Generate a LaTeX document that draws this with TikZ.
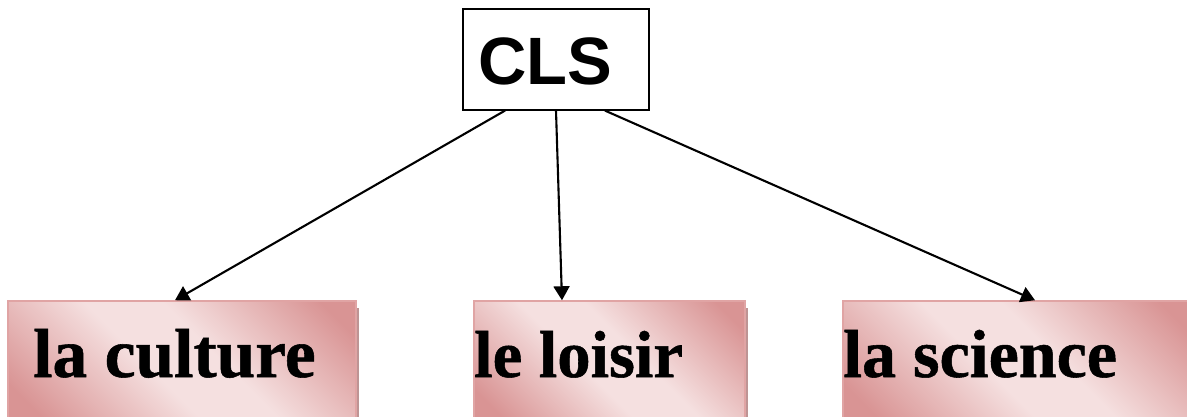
\documentclass[tikz,border=0pt]{standalone}
\usepackage{fontspec}
\setmainfont{Liberation Serif}[BoldFeatures={FakeBold=0.8}]
\newfontfamily\arialfont{Liberation Sans}
\usetikzlibrary{arrows.meta,calc}
\definecolor{pdark}{HTML}{D99494}
\definecolor{plight}{HTML}{F5E0E0}
\definecolor{pborder}{HTML}{E0A4A4}
\definecolor{pshadow}{HTML}{BE9494}
\pgfdeclarehorizontalshading{pinkgrad}{100bp}{color(0bp)=(pdark); color(20bp)=(pdark); color(44bp)=(plight); color(56bp)=(plight); color(80bp)=(pdark); color(100bp)=(pdark)}
\tikzset{
  x=1pt,y=1pt,
  pinkbox/.style={draw=pborder,line width=1.5pt,shading=pinkgrad,shading angle=45},
  shadowbox/.style={fill=pshadow,draw=none},
  lbl/.style={anchor=base west,inner sep=0pt,font=\fontsize{68}{68}\selectfont\bfseries},
  clsbox/.style={draw=black,line width=1.2pt,fill=white,minimum width=186pt,minimum height=101pt,inner sep=0pt},
  arr/.style={line width=2.1pt,-{Triangle[length=14pt,width=16pt]}}
}
\begin{document}
\begin{tikzpicture}
\useasboundingbox (0,0) rectangle (1187,-416);
\clip (0,0) rectangle (1187,-416);
% shadows
\fill[shadowbox] (11,-308) rectangle (359,-430);
\fill[shadowbox] (477,-308) rectangle (748,-430);
\fill[shadowbox] (846,-308) rectangle (1198,-430);
% boxes
\node[pinkbox,minimum width=348pt,minimum height=119pt,inner sep=0pt] (b1) at (182,-360.5) {};
\node[pinkbox,minimum width=271pt,minimum height=119pt,inner sep=0pt] (b2) at (609.5,-360.5) {};
\node[pinkbox,minimum width=352pt,minimum height=119pt,inner sep=0pt] (b3) at (1019,-360.5) {};
\node[lbl,font=\fontsize{69.5}{70}\selectfont\bfseries] (t1) at (33,-377) {la culture};
\node[lbl,font=\fontsize{66.5}{67}\selectfont\bfseries] (t2) at (474,-377) {le loisir};
\node[lbl] (t3) at (843,-377) {la science};
% CLS
\node[clsbox] (cls) at (556,-59.5) {};
\node[anchor=base west,inner sep=0pt,font=\arialfont\fontsize{67}{67}\selectfont\bfseries] (clst) at (478,-84) {CLS};
% arrows
\draw[arr] ([xshift=-51pt]cls.south) -- ([xshift=-7pt]b1.north);
\draw[arr] (cls.south) -- ([xshift=-47.5pt]b2.north);
\draw[arr] ([xshift=49pt]cls.south) -- ([xshift=16pt]b3.north);
\end{tikzpicture}
\end{document}
